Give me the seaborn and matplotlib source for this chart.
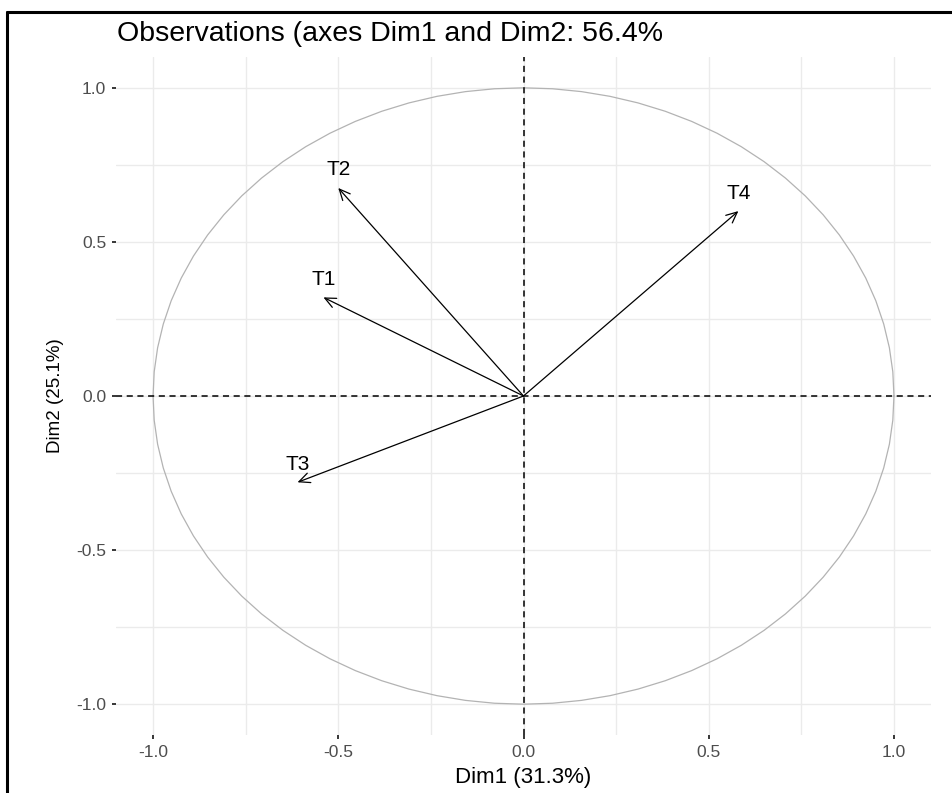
import numpy as np
import matplotlib.pyplot as plt
import seaborn as sns
from matplotlib.lines import Line2D

# variable coordinates
variables = ["T1", "T2", "T3", "T4"]
dim1 = [-0.54, -0.50, -0.61, 0.58]
dim2 = [0.32, 0.675, -0.28, 0.60]

ticks = [-1.0, -0.5, 0.0, 0.5, 1.0]
minor_ticks = [-0.75, -0.25, 0.25, 0.75]
title = "Observations (axes Dim1 and Dim2: 56.4%"
xlab = "Dim1 (31.3%)"
ylab = "Dim2 (25.1%)"

sns.set_theme(style="white")
plt.rcParams["font.family"] = ["Liberation Sans", "DejaVu Sans"]

fig = plt.figure(figsize=(9.52, 7.93), dpi=100)
ax = fig.add_axes([116 / 952, 1 - 735 / 793, 815 / 952, 678 / 793])

# unit circle
t = np.linspace(0, 2 * np.pi, 81)
sns.lineplot(x=np.cos(t), y=np.sin(t), sort=False, estimator=None,
             color="#b3b3b3", linewidth=0.9, ax=ax)

# axes through origin
ax.axhline(0, color="black", linestyle=(0, (4, 3)), linewidth=1.1)
ax.axvline(0, color="black", linestyle=(0, (4, 3)), linewidth=1.1)

# arrows + labels
for name, x, y in zip(variables, dim1, dim2):
    ax.annotate("", xy=(x, y), xytext=(0, 0),
                arrowprops=dict(arrowstyle="->,head_length=0.65,head_width=0.3",
                                color="black", linewidth=0.9,
                                shrinkA=0, shrinkB=0))
    ax.annotate(name, xy=(x, y), xytext=(0, 13), textcoords="offset points",
                ha="center", va="center", fontsize=15, color="black")

ax.set_xlim(-1.1, 1.1)
ax.set_ylim(-1.1, 1.1)
ax.set_xticks(ticks)
ax.set_yticks(ticks)
ax.set_xticks(minor_ticks, minor=True)
ax.set_yticks(minor_ticks, minor=True)
ax.set_xticklabels([f"{v:.1f}" for v in ticks])
ax.set_yticklabels([f"{v:.1f}" for v in ticks])
ax.grid(True, which="both", color="#ebebeb", linewidth=1.0)
ax.set_axisbelow(True)
ax.tick_params(axis="both", which="major", length=3, width=1.1, color="black",
               labelsize=12.5, labelcolor="#4d4d4d", pad=4,
               bottom=True, left=True)
ax.tick_params(axis="both", which="minor", length=0)
for s in ax.spines.values():
    s.set_visible(False)

ax.set_xlabel(xlab, fontsize=16, color="black")
ax.set_ylabel(ylab, fontsize=13.5, color="black")
ax.xaxis.set_label_coords(0.5, (735 - 777) / 678)
ax.xaxis.label.set_verticalalignment("center")
ax.yaxis.set_label_coords((56 - 116) / 815, 0.5)
ax.yaxis.label.set_verticalalignment("center")

fig.text(117 / 952, 1 - 34 / 793, title, ha="left", va="center",
         fontsize=20.5, color="black")

# frame on top and left of the picture
fig.add_artist(Line2D([7 / 952, 1], [1 - 12 / 793, 1 - 12 / 793],
                      transform=fig.transFigure, color="black", linewidth=2.2))
fig.add_artist(Line2D([7 / 952, 7 / 952], [0, 1 - 12 / 793],
                      transform=fig.transFigure, color="black", linewidth=2.2))

fig.savefig("out.png", dpi=100)
